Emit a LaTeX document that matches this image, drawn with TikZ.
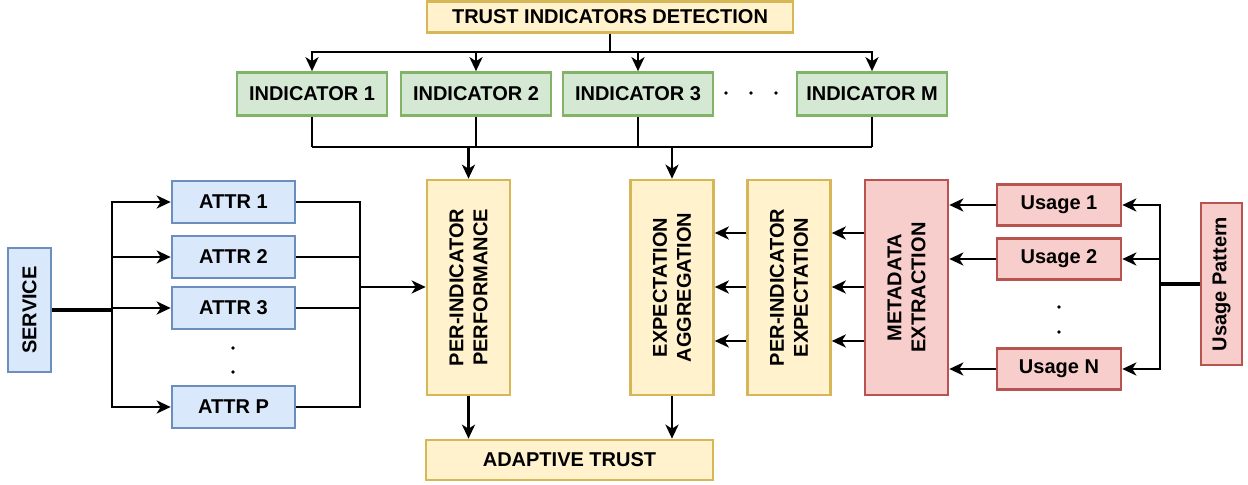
\documentclass[tikz,border=0pt]{standalone}
\usepackage{fontspec}
\setmainfont{Liberation Sans}
\usepackage{tikz}
\usetikzlibrary{positioning}
\usetikzlibrary{arrows.meta}
\usepackage{xcolor}

\definecolor{bluefill}{HTML}{DAE8FC}
\definecolor{blueline}{HTML}{6C8EBF}
\definecolor{greenfill}{HTML}{D5E8D4}
\definecolor{greenline}{HTML}{82B366}
\definecolor{yellowfill}{HTML}{FFF2CC}
\definecolor{yellowline}{HTML}{D6B656}
\definecolor{redfill}{HTML}{F8CECC}
\definecolor{redline}{HTML}{B85450}

\tikzset{
  blk/.style={draw, line width=1.3pt, inner sep=0pt, font=\bfseries, align=center},
  bluebox/.style={blk, draw=blueline, fill=bluefill},
  greenbox/.style={blk, draw=greenline, fill=greenfill, minimum width=75pt, minimum height=21.5pt},
  yellowbox/.style={blk, draw=yellowline, fill=yellowfill},
  redbox/.style={blk, draw=redline, fill=redfill},
  attrbox/.style={bluebox, minimum width=61.5pt, minimum height=21pt},
  usebox/.style={redbox, minimum width=62pt, minimum height=20.5pt},
  vbox/.style={rotate=90, minimum width=107.5pt, minimum height=41.5pt},
  wire/.style={line width=1.3pt},
  arr/.style={line width=1.3pt, -{Stealth[length=7pt,width=6.5pt,inset=2pt]}},
}

\begin{document}
\begin{tikzpicture}[x=0.5pt, y=-0.5pt]
\useasboundingbox (0,0) rectangle (1248,485);

\node[yellowbox, minimum width=183pt, minimum height=15.5pt] (tid) at (610,17) {TRUST INDICATORS DETECTION};
\node[greenbox] (ind1) at (312,94) {INDICATOR 1};
\node[greenbox] (ind2) at (476,94) {INDICATOR 2};
\node[greenbox] (ind3) at (638,94) {INDICATOR 3};
\node[greenbox] (indm) at (872,94) {INDICATOR M};

\node[yellowbox, vbox] (perf) at (468.5,287.5) {PER-INDICATOR\\PERFORMANCE};
\node[yellowbox, vbox] (expagg) at (672,287.5) {EXPECTATION\\AGGREGATION};
\node[yellowbox, vbox] (peri) at (789,287.5) {PER-INDICATOR\\EXPECTATION};
\node[redbox, vbox] (meta) at (906.5,287.5) {METADATA\\EXTRACTION};
\node[yellowbox, minimum width=143.5pt, minimum height=20pt] (adapt) at (569.5,460) {ADAPTIVE TRUST};

\node[bluebox, rotate=90, minimum width=62pt, minimum height=21.5pt] (svc) at (29.5,310) {SERVICE};
\node[attrbox] (attr1) at (233.5,202) {ATTR 1};
\node[attrbox] (attr2) at (233.5,257) {ATTR 2};
\node[attrbox] (attr3) at (233.5,308) {ATTR 3};
\node[attrbox] (attrp) at (233.5,407) {ATTR P};

\node[usebox] (use1) at (1059,205) {Usage 1};
\node[usebox] (use2) at (1059,259) {Usage 2};
\node[usebox] (usen) at (1059,369) {Usage N};
\node[redbox, rotate=90, minimum width=81pt, minimum height=20.5pt] (upat) at (1221.5,284) {Usage Pattern};

\coordinate (topbus) at (610,52);
\draw[wire] (tid.south) -- (topbus);
\foreach \n in {ind1,ind2,ind3,indm}
  \draw[arr] (topbus) -| (\n.north);
\foreach \n in {ind1,ind2,ind3,indm}
  \draw[wire] (\n.south) -- (\n.south |- 0,147);
\draw[wire] (ind1.south |- 0,147) -- (indm.south |- 0,147);
\draw[arr] (perf.east |- 0,147) -- (perf.east);
\draw[arr] (expagg.east |- 0,147) -- (expagg.east);
\draw[arr] (perf.west) -- (perf.west |- adapt.north);
\draw[arr] (expagg.west) -- (expagg.west |- adapt.north);

\coordinate (sbus) at (112,310);
\draw[line width=2pt] (svc.south) -- (sbus);
\foreach \n in {attr1,attr2,attr3,attrp}
  \draw[arr] (sbus) |- (\n.west);
\coordinate (abus) at (360,287);
\foreach \n in {attr1,attr2,attr3,attrp}
  \draw[wire] (\n.east) -| (abus);
\draw[arr] (abus) -- (perf.north |- abus);

\foreach \y in {233,287,341} {
  \draw[arr] (peri.north |- 0,\y) -- (expagg.south |- 0,\y);
  \draw[arr] (meta.north |- 0,\y) -- (peri.south |- 0,\y);
}
\foreach \n in {use1,use2,usen}
  \draw[arr] (\n.west) -- (meta.south |- \n.west);
\coordinate (ubus) at (1160,284);
\draw[line width=2pt] (upat.north) -- (ubus);
\foreach \n in {use1,use2,usen}
  \draw[arr] (ubus) |- (\n.east);

\foreach \x in {726,751,776}
  \fill (\x,93) circle (0.9pt);
\foreach \y in {348,372}
  \fill (233,\y) circle (0.9pt);
\foreach \y in {307,332}
  \fill (1059,\y) circle (0.9pt);
\end{tikzpicture}
\end{document}
